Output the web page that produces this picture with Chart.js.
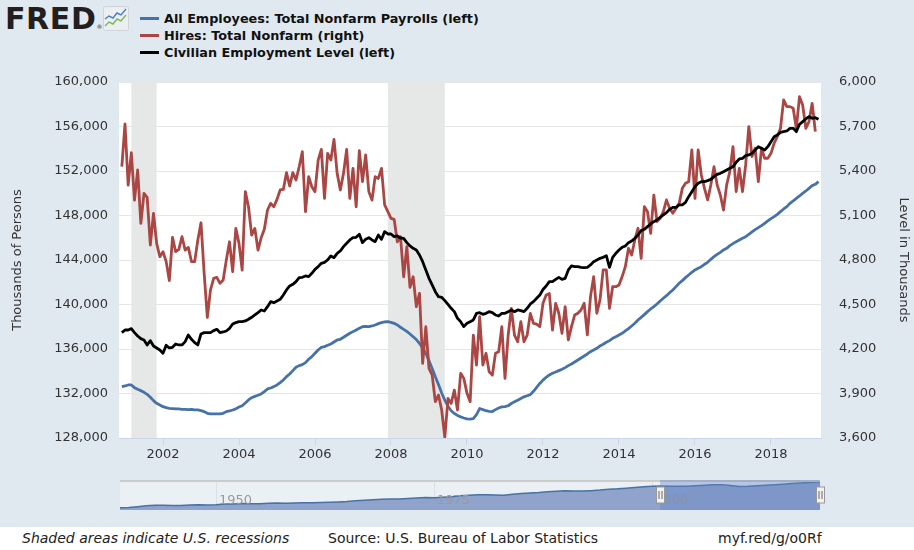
<!DOCTYPE html>
<html>
<head>
<meta charset="utf-8">
<script src="https://cdn.jsdelivr.net/npm/chart.js@4.4.1/dist/chart.umd.min.js"></script>
<style>
  html, body { margin: 0; padding: 0; }
  body { width: 914px; height: 550px; background: #e1e9f0; position: relative; overflow: hidden; font-family: 'DejaVu Sans', sans-serif; }
  #main { position: absolute; left: 0; top: 0; }
  #nav { position: absolute; left: 0; top: 474px; }
  #logo { position: absolute; left: 5px; top: 1px; font: bold 30px 'DejaVu Sans', sans-serif; letter-spacing: 0.6px; color: #231f20; }
  #logo sup { font-size: 6px; font-weight: normal; vertical-align: baseline; position: relative; top: 0; }
  #icon { position: absolute; left: 103px; top: 6px; }
  .legrow { position: absolute; left: 140px; height: 17px; display: flex; align-items: center; font: bold 12.8px 'DejaVu Sans', sans-serif; color: #111; white-space: nowrap; }
  .legrow span.sw { display: inline-block; width: 19px; height: 3px; margin-right: 5px; }
  #footer { position: absolute; left: 0; top: 527px; width: 914px; height: 23px; background: #ffffff; }
  #footer div { position: absolute; top: 3px; font: 14px 'DejaVu Sans', sans-serif; color: #222; white-space: nowrap; }
</style>
</head>
<body>
<div id="logo">FRED<sup>&#174;</sup></div>
<svg id="icon" width="26" height="25">
  <rect x="0.5" y="0.5" width="25" height="24" rx="2" fill="#eceff2" stroke="#cfd5da"/>
  <polyline points="2,13 6,10 10,12 14,7 18,9 23,3" fill="none" stroke="#4c7ec3" stroke-width="1.4"/>
  <polyline points="2,20 6,16 10,18 14,13 18,15 23,9" fill="none" stroke="#7ab85a" stroke-width="1.4"/>
</svg>
<div id="legend"></div>
<canvas id="main" width="914" height="470"></canvas>
<canvas id="nav" width="914" height="40"></canvas>
<div id="footer">
  <div style="left:22px;font-style:italic;">Shaded areas indicate U.S. recessions</div>
  <div style="left:328px;">Source: U.S. Bureau of Labor Statistics</div>
  <div style="left:718px;">myf.red/g/o0Rf</div>
</div>
<script>
//datos mensuales, desde diciembre 2000
const firstMonth = '2000-12';

// All Employees: Total Nonfarm Payrolls, thousands (left axis)
const payrolls = [
  132617,132677,132767,132767,132527,132377,132257,132107,131927,131658,131358,131118,
  130969,130819,130729,130669,130639,130609,130609,130579,130579,130549,130579,130520,
  130520,130460,130370,130220,130160,130160,130160,130160,130220,130370,130430,130520,
  130620,130780,130900,131150,131420,131620,131740,131840,131960,132168,132408,132497,
  132617,132767,132977,133216,133516,133756,134055,134355,134505,134595,134775,135074,
  135314,135613,135913,136153,136212,136332,136452,136632,136812,136872,137051,137231,
  137411,137561,137710,137860,138010,138040,138010,138070,138160,138280,138370,138430,
  138460,138400,138310,138160,137950,137770,137580,137350,137100,136850,136500,136100,
  135600,134950,134250,133500,132800,132050,131400,130850,130450,130200,130030,129900,
  129800,129720,129700,129750,130100,130650,130550,130450,130400,130380,130550,130700,
  130800,130820,130900,131100,131250,131400,131550,131700,131800,131900,132200,132550,
  132900,133200,133456,133665,133815,133935,134055,134175,134325,134505,134654,134834,
  135014,135194,135374,135553,135763,135913,136063,136273,136422,136602,136752,136962,
  137111,137261,137411,137621,137831,138070,138310,138610,138849,139089,139359,139598,
  139808,140047,140317,140557,140796,141066,141306,141606,141906,142145,142415,142654,
  142894,143103,143253,143403,143613,143792,144062,144302,144511,144691,144901,145051,
  145290,145470,145650,145800,145950,146099,146309,146519,146729,146909,147088,147298,
  147508,147718,147897,148107,148346,148586,148796,149095,149305,149545,149754,149994,
  150204,150443,150683,150803,151043
];

// Hires: Total Nonfarm, thousands (right axis)
const hires = [
  5429,5717,5305,5523,5204,5407,5047,5249,5222,4901,5114,4912,
  4822,4856,4789,4661,4953,4856,4872,4957,4867,4885,4789,4789,
  4935,5051,4710,4413,4598,4676,4683,4643,4665,4800,4923,4721,
  5013,4912,4732,5261,5159,4968,5013,4867,4950,5007,5137,5182,
  5159,5209,5272,5276,5389,5299,5389,5339,5429,5530,5126,5362,
  5294,5261,5474,5546,5216,5519,5474,5613,5384,5272,5384,5546,
  5216,5418,5159,5537,5328,5508,5261,5204,5362,5350,5418,5171,
  5126,5081,5074,4923,4957,4687,4890,4615,4687,4485,4575,4103,
  4350,4069,4024,3845,3890,3789,3605,3867,3833,3923,3789,4036,
  4002,3901,3845,4294,4092,4418,4092,4171,4047,4024,4171,4182,
  4350,4002,4294,4474,4294,4249,4384,4249,4294,4440,4373,4368,
  4351,4508,4564,4575,4328,4508,4441,4306,4486,4261,4351,4429,
  4441,4463,4508,4295,4553,4688,4441,4531,4733,4733,4474,4620,
  4620,4632,4688,4755,4879,4834,4935,5014,4811,5160,5126,4980,
  5238,5059,5081,5126,5205,5148,5115,5148,5182,5283,5317,5328,
  5542,5216,5542,5373,5283,5205,5306,5429,5306,5238,5137,5306,
  5396,5564,5261,5418,5261,5441,5699,5497,5553,5328,5553,5486,
  5486,5519,5587,5632,5688,5879,5834,5834,5823,5688,5901,5845,
  5688,5733,5856,5665
];

// Civilian Employment Level, thousands (left axis)
const civilian = [
  137471,137710,137710,137830,137471,137171,136932,136812,136362,136752,136272,136093,
  135913,135613,136332,136093,136153,136453,136362,136362,136662,137261,136872,136572,
  136362,137351,137471,137471,137471,137650,137771,137471,137531,137620,137860,138250,
  138370,138460,138460,138520,138670,138850,139059,139269,139508,139418,139808,140257,
  140167,140317,140467,140856,141306,141665,141815,142055,142415,142444,142564,142504,
  142804,143163,143403,143702,143792,144002,144362,144212,144601,144811,145200,145500,
  145800,146009,146039,146309,145560,145859,146009,145800,145650,146249,145859,146549,
  146339,146339,146099,146159,145979,145949,145560,145260,145050,144900,144451,143852,
  143103,142354,141755,141155,140706,140646,140346,140017,139657,139358,138759,138459,
  138010,138309,138459,138609,139208,139268,139118,139208,139358,139268,139058,138968,
  139208,139208,139358,139508,139358,139508,139448,139358,139657,140047,140257,140556,
  140856,141350,141665,142054,142054,142264,142444,142264,142354,143103,143462,143402,
  143402,143342,143312,143342,143552,143852,144002,144151,144241,144391,143342,144241,
  144601,144900,145140,145260,145560,145710,145949,146249,146638,146758,146998,147237,
  147447,147597,147837,148046,148256,148556,148736,148736,148946,148960,149185,149694,
  150144,150593,150893,151043,151043,151133,151252,151492,151702,151792,151941,152091,
  152241,152391,152780,153080,153140,153380,153440,153589,153889,154189,154039,153889,
  154189,154638,155087,155237,155477,155537,155597,155836,155836,155537,156196,156436,
  156675,156885,156735,156795,156645
];

const seriesNames = [
  'All Employees: Total Nonfarm Payrolls (left)',
  'Hires: Total Nonfarm (right)',
  'Civilian Employment Level (left)'
];
const seriesColors = ['#4572a7', '#aa4643', '#000000'];

const yearTicks = [2002, 2004, 2006, 2008, 2010, 2012, 2014, 2016, 2018];
const leftTicks = [128000, 160000, 4000];   // min, max, step
const rightTicks = [3600, 6000, 300];

const recessionStart = ['2001-03', '2007-12'];
const recessionEnd = ['2001-11', '2009-06'];

// navegador: nomina anual (enero), desde 1939
const navFirstYear = 1939;
const navPayrolls = [
  30300,31800,35300,39500,42000,41900,41000,40500,43300,44800,43800,
  44200,47500,48300,50100,48900,49600,51900,52900,51000,52500,
  54300,53300,55200,56400,57900,60100,63500,65400,67600,70100,
  71100,70900,73200,76400,78100,76900,79300,82000,86000,89400,
  90800,91000,89600,88800,93400,96800,99300,101500,104800,107700,
  109600,108100,108600,110400,113000,116700,118800,121900,125100,128100,
  130800,132500,130500,130300,130600,132800,135400,137500,138400,134100,
  129800,130800,132900,135100,137600,140500,143200,145600,147800,150400
];
const navTicks = [1950, 1975, 2000];

function monthToYear(s) {
  const p = s.split('-').map(Number);
  return p[0] + (p[1] - 1) / 12;
}
const startX = monthToYear(firstMonth);
function toPoints(values) {
  return values.map((v, i) => ({ x: startX + i / 12, y: v }));
}
const endX = startX + (payrolls.length - 1) / 12;
const fmt = v => Number(v).toLocaleString('en-US');

Chart.defaults.font.family = "'DejaVu Sans', sans-serif";
Chart.defaults.font.size = 13;
Chart.defaults.color = '#333333';

// leyenda
const legend = document.getElementById('legend');
seriesNames.forEach((name, i) => {
  const row = document.createElement('div');
  row.className = 'legrow';
  row.style.top = (10 + i * 17) + 'px';
  row.innerHTML = '<span class="sw" style="background:' + seriesColors[i] + '"></span>' + name;
  legend.appendChild(row);
});

// fondo blanco + recesiones
const backPlugin = {
  id: 'fredBack',
  beforeDraw(chart) {
    const { ctx, chartArea: a, scales: { x } } = chart;
    ctx.save();
    ctx.fillStyle = '#ffffff';
    ctx.fillRect(a.left, a.top, a.right - a.left, a.bottom - a.top);
    ctx.fillStyle = '#e6e8e8';
    recessionStart.forEach((r, i) => {
      const x0 = x.getPixelForValue(monthToYear(r));
      const x1 = x.getPixelForValue(monthToYear(recessionEnd[i]));
      ctx.fillRect(x0, a.top, x1 - x0, a.bottom - a.top);
    });
    ctx.restore();
  }
};

var mainChart = new Chart(document.getElementById('main').getContext('2d'), {
  type: 'line',
  data: {
    datasets: [
      { label: seriesNames[0], data: toPoints(payrolls), yAxisID: 'y', borderColor: seriesColors[0], order: 2 },
      { label: seriesNames[1], data: toPoints(hires), yAxisID: 'y1', borderColor: seriesColors[1], order: 1 },
      { label: seriesNames[2], data: toPoints(civilian), yAxisID: 'y', borderColor: seriesColors[2], order: 0 }
    ]
  },
  options: {
    responsive: false,
    animation: false,
    layout: { padding: { top: 82, left: 0, right: 0, bottom: 0 } },
    elements: {
      line: { borderWidth: 2.8, tension: 0, borderJoinStyle: 'round' },
      point: { radius: 0 }
    },
    plugins: { legend: { display: false }, tooltip: { enabled: false } },
    scales: {
      x: {
        type: 'linear',
        min: 2000.842,
        max: 2019.316,
        afterBuildTicks: s => { s.ticks = yearTicks.map(v => ({ value: v })); },
        afterFit: s => { s.height = 32; },
        grid: { drawOnChartArea: false, drawTicks: true, tickLength: 7, color: '#ccd6eb' },
        border: { color: '#ccd6eb', width: 1 },
        ticks: { padding: 2, autoSkip: false, maxRotation: 0, callback: v => String(v) }
      },
      y: {
        position: 'left',
        min: leftTicks[0],
        max: leftTicks[1],
        afterFit: s => { s.width = 119; },
        grid: { color: '#e6e6e6', drawTicks: false },
        border: { display: false },
        ticks: { stepSize: leftTicks[2], padding: 11, callback: fmt },
        title: { display: true, text: 'Thousands of Persons', padding: { top: 10, bottom: 0 } }
      },
      y1: {
        position: 'right',
        min: rightTicks[0],
        max: rightTicks[1],
        afterFit: s => { s.width = 93; },
        grid: { drawOnChartArea: false, drawTicks: false },
        border: { display: false },
        ticks: { stepSize: rightTicks[2], padding: 18, callback: fmt },
        title: { display: true, text: 'Level in Thousands', padding: { top: 3, bottom: 0 } }
      }
    }
  },
  plugins: [backPlugin]
});

// navegador
const navPlugin = {
  id: 'navigator',
  beforeDatasetsDraw(chart) {
    const { ctx, chartArea: a, scales: { x } } = chart;
    ctx.save();
    ctx.fillStyle = 'rgba(255,255,255,0.35)';
    ctx.fillRect(a.left, a.top, a.right - a.left, a.bottom - a.top);
    ctx.strokeStyle = '#d9e0e7';
    ctx.lineWidth = 1;
    navTicks.forEach(t => {
      const px = Math.round(x.getPixelForValue(t)) + 0.5;
      ctx.beginPath();
      ctx.moveTo(px, a.top);
      ctx.lineTo(px, a.bottom);
      ctx.stroke();
    });
    ctx.restore();
  },
  afterDatasetsDraw(chart) {
    const { ctx, chartArea: a, scales: { x } } = chart;
    ctx.save();
    ctx.font = "13px 'DejaVu Sans'";
    ctx.fillStyle = '#9a9a9a';
    ctx.textBaseline = 'middle';
    navTicks.forEach(t => ctx.fillText(String(t), x.getPixelForValue(t) + 3, a.top + 21));
    ctx.fillStyle = '#cccccc';
    ctx.fillRect(a.left, a.top, a.right - a.left, 2);
    const s = x.getPixelForValue(startX);
    const e = x.getPixelForValue(endX);
    ctx.fillStyle = 'rgba(102,133,194,0.4)';
    ctx.fillRect(s, a.top, e - s, a.bottom - a.top);
    [s, e].forEach(h => {
      const hx = Math.round(h) + 0.5;
      ctx.fillStyle = '#f2f2f2';
      ctx.strokeStyle = '#999999';
      ctx.lineWidth = 1;
      ctx.fillRect(hx - 4, a.top + 7, 8, 16);
      ctx.strokeRect(hx - 4, a.top + 7, 8, 16);
      ctx.strokeStyle = '#666666';
      ctx.beginPath();
      ctx.moveTo(hx - 1.5, a.top + 11); ctx.lineTo(hx - 1.5, a.top + 19);
      ctx.moveTo(hx + 1.5, a.top + 11); ctx.lineTo(hx + 1.5, a.top + 19);
      ctx.stroke();
    });
    ctx.restore();
  }
};

const navData = navPayrolls.map((v, i) => ({ x: navFirstYear + i, y: v }));
navData.push({ x: endX, y: payrolls[payrolls.length - 1] });

var navChart = new Chart(document.getElementById('nav').getContext('2d'), {
  type: 'line',
  data: {
    datasets: [{
      data: navData,
      borderColor: '#4572a7',
      backgroundColor: '#8fa3cb',
      borderWidth: 1.5,
      fill: 'start',
      pointRadius: 0,
      tension: 0
    }]
  },
  options: {
    responsive: false,
    animation: false,
    layout: { padding: { left: 120, right: 94, top: 6, bottom: 4 } },
    plugins: { legend: { display: false }, tooltip: { enabled: false } },
    scales: {
      x: { type: 'linear', display: false, min: navFirstYear, max: endX },
      y: { display: false, min: 20000, max: 160000 }
    }
  },
  plugins: [navPlugin]
});
</script>
</body>
</html>
